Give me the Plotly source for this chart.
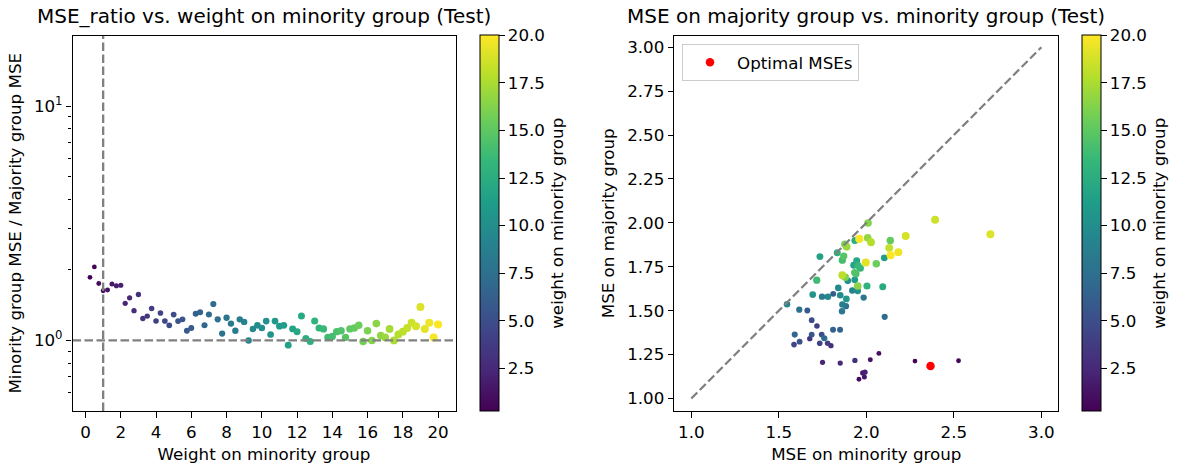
import numpy as np
import plotly.graph_objects as go

# ---- Left panel: MSE ratio per weight on the minority group ----
weights = [0.25, 0.5, 0.75, 1.0, 1.25, 1.5, 1.75, 2.0, 2.25, 2.5,
           2.75, 3.0, 3.25, 3.5, 3.75, 4.0, 4.25, 4.5, 4.75, 5.0,
           5.25, 5.5, 5.75, 6.0, 6.25, 6.5, 6.75, 7.0, 7.25, 7.5,
           7.75, 8.0, 8.25, 8.5, 8.75, 9.0, 9.25, 9.5, 9.75, 10.0,
           10.25, 10.5, 10.75, 11.0, 11.25, 11.5, 11.75, 12.0, 12.25, 12.5,
           12.75, 13.0, 13.25, 13.5, 13.75, 14.0, 14.25, 14.5, 14.75, 15.0,
           15.25, 15.5, 15.75, 16.0, 16.25, 16.5, 16.75, 17.0, 17.25, 17.5,
           17.75, 18.0, 18.25, 18.5, 18.75, 19.0, 19.25, 19.5, 19.75, 20.0]
mse_ratio = [1.86, 2.06, 1.75, 1.63, 1.64, 1.74, 1.71, 1.72, 1.44, 1.52,
             1.34, 1.57, 1.24, 1.27, 1.37, 1.21, 1.31, 1.21, 1.16, 1.29,
             1.21, 1.23, 1.10, 1.13, 1.30, 1.32, 1.16, 1.29, 1.43, 1.23,
             1.07, 1.25, 1.18, 1.10, 1.23, 1.20, 1.00, 1.12, 1.16, 1.13,
             1.21, 1.06, 1.21, 1.15, 1.16, 0.955, 1.12, 1.09, 1.27, 1.02,
             0.99, 1.21, 1.13, 1.12, 1.03, 1.04, 1.09, 1.10, 1.03, 1.12,
             1.13, 1.16, 0.99, 1.10, 1.00, 1.18, 1.05, 1.03, 1.12, 1.00,
             1.06, 1.09, 1.13, 1.19, 1.15, 1.39, 1.12, 1.19, 1.03, 1.17]

# ---- Right panel: per-group test MSE for each weighted model ----
pair_weights = [0.25, 0.5, 0.75, 1.0, 1.25, 1.5, 1.75, 2.0, 2.25, 2.5,
                2.75, 3.0, 3.25, 3.75, 4.0, 4.25, 4.5, 4.75, 5.0, 5.25,
                5.5, 5.75, 6.0, 6.25, 6.5, 6.75, 7.0, 7.25, 7.5, 7.75,
                8.0, 8.25, 8.5, 8.75, 9.0, 9.25, 9.5, 9.5, 9.75, 10.0,
                10.25, 10.5, 10.75, 11.0, 11.25, 11.5, 11.75, 12.0, 12.25, 12.5,
                12.75, 13.0, 13.25, 13.5, 13.75, 14.0, 14.25, 14.5, 14.75, 15.25,
                15.5, 15.75, 16.0, 16.25, 16.5, 16.75, 17.0, 17.75, 18.0, 18.25,
                18.5, 18.75, 19.0, 19.25, 19.5, 19.75, 20.0]
minority_mse = [2.278, 2.527, 1.958, 2.072, 2.023, 1.989, 1.979, 1.993, 1.750, 1.851,
                1.798, 1.935, 1.677, 1.779, 1.718, 1.734, 1.587, 1.688, 1.745, 1.619,
                1.688, 1.663, 1.811, 1.810, 1.850, 1.591, 1.760, 2.105, 1.884, 1.617,
                1.985, 1.861, 1.747, 1.863, 1.920, 1.547, 1.840, 1.781, 1.851, 1.894,
                1.951, 1.694, 1.886, 1.934, 2.103, 1.735, 1.928, 1.945, 2.094, 1.935,
                1.834, 2.004, 1.966, 1.953, 1.717, 1.863, 1.941, 1.934, 1.871, 2.137,
                2.057, 1.878, 1.880, 2.010, 1.951, 2.008, 1.888, 2.027, 1.863, 2.131,
                2.393, 2.225, 2.709, 1.997, 2.183, 1.960, 2.139]
majority_mse = [1.213, 1.215, 1.110, 1.257, 1.221, 1.122, 1.146, 1.150, 1.206, 1.202,
                1.301, 1.217, 1.341, 1.315, 1.413, 1.315, 1.307, 1.446, 1.364, 1.324,
                1.364, 1.501, 1.596, 1.392, 1.391, 1.364, 1.343, 1.465, 1.526, 1.506,
                1.575, 1.497, 1.580, 1.535, 1.615, 1.537, 1.630, 1.580, 1.588, 1.670,
                1.613, 1.592, 1.567, 1.676, 1.801, 1.808, 1.759, 1.784, 1.637, 1.900,
                1.830, 1.641, 1.742, 1.757, 1.674, 1.788, 1.710, 1.717, 1.811, 1.900,
                1.767, 1.879, 1.691, 1.999, 1.641, 1.915, 1.864, 1.890, 1.702, 1.858,
                2.018, 1.925, 1.936, 1.774, 1.833, 1.909, 1.816]
optimal_minority = [2.367]
optimal_majority = [1.185]

colorbar_ticks = [2.5, 5.0, 7.5, 10.0, 12.5, 15.0, 17.5, 20.0]

W, H = 1187, 467
FONT = "DejaVu Sans"
GRAY = "#808080"
DASH = "8.5px,3.5px"
LW = 2.3
FS = 16.7      # tick and axis label size
FS_TITLE = 20  # panel title size


def px_x(p):
    return p / W


def px_y(p):
    return 1 - p / H


def marker_size(w):
    # marker area grows linearly with the weight
    return np.sqrt(22 + 2.2 * np.asarray(w))


top, bottom = 35.5, 411.0
left_dom = [px_x(72.5), px_x(455.5)]
right_dom = [px_x(674.3), px_x(1058.3)]
y_dom = [px_y(bottom), px_y(top)]

fig = go.Figure()

fig.add_trace(go.Scatter(
    x=weights, y=mse_ratio, mode="markers", xaxis="x", yaxis="y",
    marker=dict(color=weights, coloraxis="coloraxis", size=marker_size(weights),
                opacity=1, line=dict(width=0)),
    showlegend=False, hoverinfo="skip"))
fig.add_trace(go.Scatter(
    x=[-0.74, 20.99], y=[1, 1], mode="lines", xaxis="x", yaxis="y",
    line=dict(color=GRAY, width=LW, dash=DASH), showlegend=False, hoverinfo="skip"))
fig.add_trace(go.Scatter(
    x=[1, 1], y=[0.5, 20], mode="lines", xaxis="x", yaxis="y",
    line=dict(color=GRAY, width=LW, dash=DASH), showlegend=False, hoverinfo="skip"))

fig.add_trace(go.Scatter(
    x=minority_mse, y=majority_mse, mode="markers", xaxis="x2", yaxis="y2",
    marker=dict(color=pair_weights, coloraxis="coloraxis2", size=marker_size(pair_weights),
                opacity=1, line=dict(width=0)),
    showlegend=False, hoverinfo="skip"))
fig.add_trace(go.Scatter(
    x=[1, 3], y=[1, 3], mode="lines", xaxis="x2", yaxis="y2",
    line=dict(color=GRAY, width=LW, dash=DASH), showlegend=False, hoverinfo="skip"))
fig.add_trace(go.Scatter(
    x=optimal_minority, y=optimal_majority, mode="markers", xaxis="x2", yaxis="y2",
    marker=dict(color="red", size=8.5, line=dict(width=0)), name="Optimal MSEs",
    showlegend=True))

tick_font = dict(family=FONT, size=FS, color="black")
label_font = dict(family=FONT, size=FS, color="black")
axis_common = dict(showline=True, mirror=True, linecolor="black", linewidth=1.2,
                   ticks="outside", ticklen=5.5, tickwidth=1.2, tickcolor="black",
                   showgrid=False, zeroline=False, tickfont=tick_font)


def colorbar(x0):
    return dict(
        x=px_x(x0), xanchor="left", xpad=0, ypad=0,
        y=(y_dom[0] + y_dom[1]) / 2, yanchor="middle",
        lenmode="pixels", len=bottom - top, thickness=19,
        outlinewidth=1, outlinecolor="black",
        tickmode="array", tickvals=colorbar_ticks,
        ticktext=[f"{t:.1f}" for t in colorbar_ticks],
        ticks="outside", ticklen=5.5, tickwidth=1.2, tickcolor="black",
        tickfont=tick_font,
        title=dict(text="weight on minority group", side="right", font=label_font))


minor_vals = [0.6, 0.7, 0.8, 0.9, 2, 3, 4, 5, 6, 7, 8, 9]

fig.update_layout(
    width=W, height=H, margin=dict(l=0, r=0, t=0, b=0),
    paper_bgcolor="white", plot_bgcolor="white",
    font=dict(family=FONT, color="black"),
    xaxis=dict(domain=left_dom, range=[-0.74, 20.99], anchor="y",
               tickmode="array", tickvals=list(range(0, 21, 2)),
               title=dict(text="Weight on minority group", font=label_font, standoff=7),
               **axis_common),
    yaxis=dict(domain=y_dom, type="log", range=[np.log10(0.5), np.log10(20)], anchor="x",
               tickmode="array", tickvals=[1, 10],
               ticktext=["10<sup>0</sup>", "10<sup>1</sup>"],
               minor=dict(tickmode="array", tickvals=minor_vals, ticks="outside",
                          ticklen=3, tickwidth=0.9, tickcolor="black", showgrid=False),
               title=dict(text="Minority group MSE / Majority group MSE",
                          font=label_font, standoff=8),
               **axis_common),
    xaxis2=dict(domain=right_dom, range=[0.903, 3.097], anchor="y2",
                tickmode="array", tickvals=[1.0, 1.5, 2.0, 2.5, 3.0], tickformat=".1f",
                title=dict(text="MSE on minority group", font=label_font, standoff=7),
                **axis_common),
    yaxis2=dict(domain=y_dom, range=[0.929, 3.067], anchor="x2",
                tickmode="array", tickvals=[1.0, 1.25, 1.5, 1.75, 2.0, 2.25, 2.5, 2.75, 3.0],
                tickformat=".2f",
                title=dict(text="MSE on majority group", font=label_font, standoff=8),
                **axis_common),
    coloraxis=dict(colorscale="Viridis", cmin=0.25, cmax=20, colorbar=colorbar(480)),
    coloraxis2=dict(colorscale="Viridis", cmin=0.25, cmax=20, colorbar=colorbar(1082)),
    legend=dict(x=px_x(682), y=px_y(44), xanchor="left", yanchor="top",
                bgcolor="white", bordercolor="#cccccc", borderwidth=1,
                font=dict(family=FONT, size=FS, color="black"), itemwidth=44),
    annotations=[
        dict(text="MSE_ratio vs. weight on minority group (Test)",
             x=(left_dom[0] + left_dom[1]) / 2, y=y_dom[1], xref="paper", yref="paper",
             xanchor="center", yanchor="bottom", yshift=5, showarrow=False,
             font=dict(family=FONT, size=FS_TITLE, color="black")),
        dict(text="MSE on majority group vs. minority group (Test)",
             x=(right_dom[0] + right_dom[1]) / 2, y=y_dom[1], xref="paper", yref="paper",
             xanchor="center", yanchor="bottom", yshift=5, showarrow=False,
             font=dict(family=FONT, size=FS_TITLE, color="black")),
    ],
)

fig.write_html("out.html")
